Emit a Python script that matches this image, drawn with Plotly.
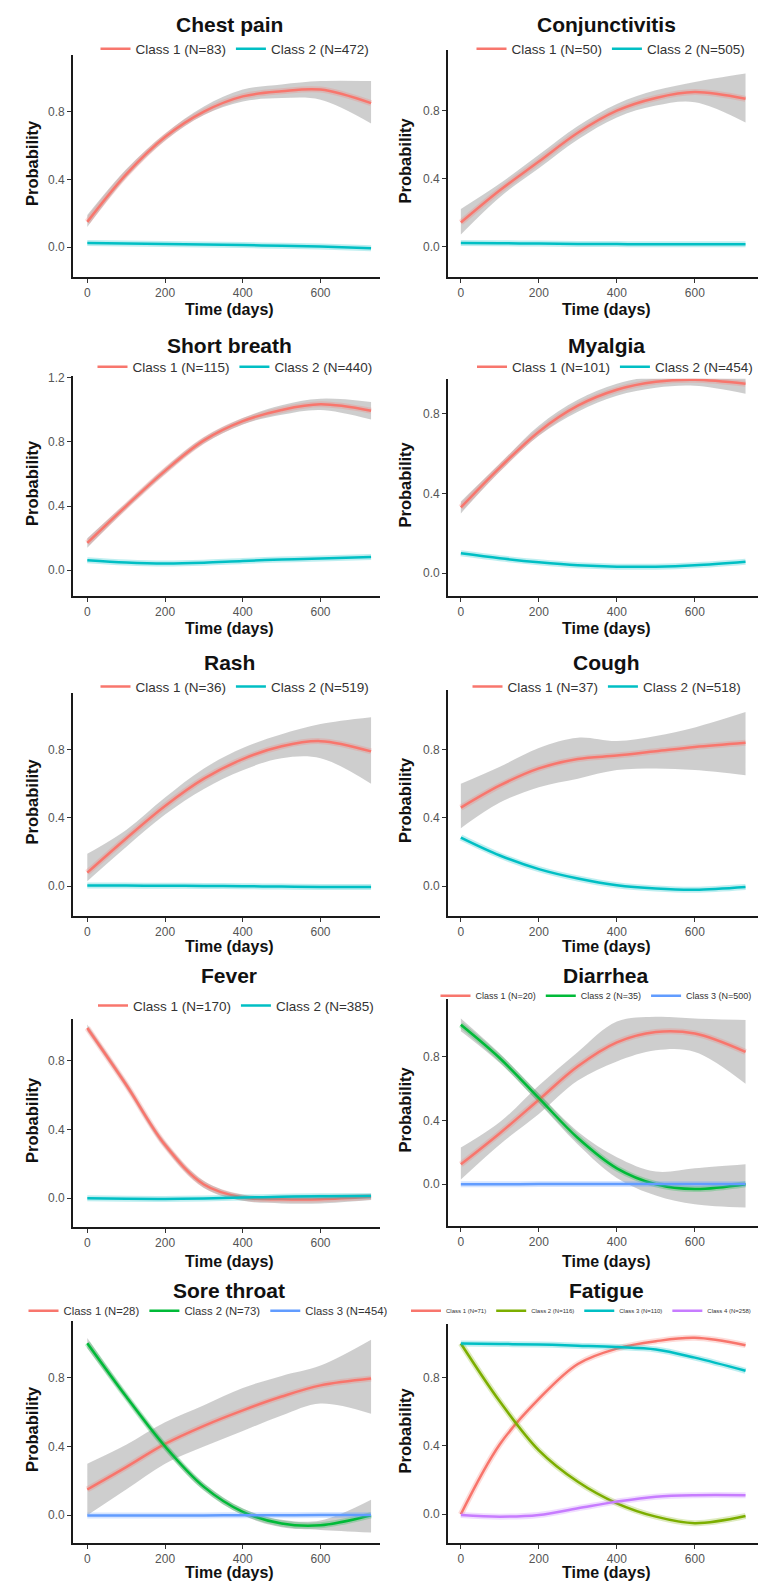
import plotly.graph_objects as go

# ---------------- data ----------------
T = [0, 100, 200, 300, 400, 500, 600, 730]

# Chest pain
chest_names = ["Class 1 (N=83)", "Class 2 (N=472)"]
cp1 = [0.15, 0.43, 0.65, 0.80, 0.89, 0.92, 0.93, 0.85]
cp1_lo = [0.12, 0.41, 0.63, 0.78, 0.86, 0.88, 0.87, 0.73]
cp1_hi = [0.19, 0.46, 0.67, 0.83, 0.93, 0.96, 0.98, 0.98]
cp2 = [0.025, 0.022, 0.019, 0.016, 0.013, 0.009, 0.004, -0.005]

# Conjunctivitis
conj_names = ["Class 1 (N=50)", "Class 2 (N=505)"]
cj1 = [0.14, 0.33, 0.50, 0.67, 0.80, 0.875, 0.91, 0.87]
cj1_lo = [0.07, 0.29, 0.46, 0.63, 0.76, 0.83, 0.85, 0.73]
cj1_hi = [0.22, 0.37, 0.54, 0.71, 0.84, 0.92, 0.97, 1.02]
cj2 = [0.02, 0.018, 0.016, 0.014, 0.013, 0.012, 0.012, 0.012]

# Short breath
sb_names = ["Class 1 (N=115)", "Class 2 (N=440)"]
sb1 = [0.17, 0.40, 0.62, 0.81, 0.93, 1.00, 1.035, 0.995]
sb1_lo = [0.14, 0.38, 0.60, 0.79, 0.91, 0.97, 1.00, 0.94]
sb1_hi = [0.20, 0.42, 0.64, 0.83, 0.95, 1.03, 1.07, 1.05]
sb2 = [0.062, 0.048, 0.042, 0.047, 0.058, 0.066, 0.073, 0.083]

# Myalgia
my_names = ["Class 1 (N=101)", "Class 2 (N=454)"]
my1 = [0.33, 0.53, 0.71, 0.84, 0.92, 0.96, 0.97, 0.95]
my1_lo = [0.30, 0.51, 0.69, 0.81, 0.89, 0.93, 0.94, 0.90]
my1_hi = [0.36, 0.55, 0.74, 0.87, 0.95, 0.99, 1.00, 0.99]
my2 = [0.10, 0.075, 0.055, 0.04, 0.033, 0.033, 0.04, 0.058]

# Rash
rash_names = ["Class 1 (N=36)", "Class 2 (N=519)"]
ra1 = [0.08, 0.28, 0.47, 0.63, 0.745, 0.82, 0.85, 0.79]
ra1_lo = [0.03, 0.23, 0.42, 0.57, 0.68, 0.75, 0.75, 0.60]
ra1_hi = [0.19, 0.33, 0.52, 0.69, 0.81, 0.89, 0.95, 0.99]
ra2 = [0.005, 0.004, 0.003, 0.002, 0.0, -0.002, -0.004, -0.005]

# Cough
cough_names = ["Class 1 (N=37)", "Class 2 (N=518)"]
co1 = [0.46, 0.59, 0.69, 0.745, 0.765, 0.79, 0.815, 0.84]
co1_lo = [0.34, 0.49, 0.58, 0.63, 0.68, 0.69, 0.68, 0.65]
co1_hi = [0.60, 0.70, 0.81, 0.87, 0.85, 0.88, 0.93, 1.02]
co2 = [0.285, 0.18, 0.10, 0.045, 0.006, -0.013, -0.02, -0.004]

# Fever
fever_names = ["Class 1 (N=170)", "Class 2 (N=385)"]
fe1 = [0.99, 0.66, 0.31, 0.08, 0.004, -0.006, -0.006, 0.008]
fe1_lo = [0.97, 0.64, 0.29, 0.06, -0.015, -0.03, -0.03, -0.01]
fe1_hi = [1.01, 0.68, 0.33, 0.10, 0.02, 0.015, 0.02, 0.025]
fe2 = [0.0, -0.003, -0.004, -0.001, 0.004, 0.008, 0.012, 0.013]

# Diarrhea
diar_names = ["Class 1 (N=20)", "Class 2 (N=35)", "Class 3 (N=500)"]
di1 = [0.125, 0.32, 0.53, 0.74, 0.89, 0.955, 0.945, 0.83]
di1_lo = [0.03, 0.25, 0.44, 0.65, 0.77, 0.84, 0.83, 0.63]
di1_hi = [0.23, 0.39, 0.62, 0.83, 1.02, 1.05, 1.04, 1.03]
di2 = [1.0, 0.79, 0.54, 0.29, 0.10, 0.0, -0.03, 0.0]
di2_lo = [0.96, 0.76, 0.51, 0.25, 0.04, -0.07, -0.125, -0.146]
di2_hi = [1.04, 0.82, 0.57, 0.33, 0.17, 0.08, 0.10, 0.125]
di3 = [0.0, 0.0, 0.001, 0.001, 0.002, 0.002, 0.002, 0.002]

# Sore throat
sore_names = ["Class 1 (N=28)", "Class 2 (N=73)", "Class 3 (N=454)"]
st1 = [0.15, 0.28, 0.415, 0.52, 0.61, 0.69, 0.755, 0.795]
st1_lo = [0.0, 0.15, 0.30, 0.40, 0.49, 0.58, 0.65, 0.59]
st1_hi = [0.30, 0.41, 0.54, 0.64, 0.74, 0.81, 0.87, 1.02]
st2 = [1.0, 0.69, 0.40, 0.165, 0.02, -0.048, -0.058, 0.0]
st2_lo = [0.97, 0.67, 0.38, 0.145, 0.0, -0.07, -0.085, -0.10]
st2_hi = [1.03, 0.71, 0.42, 0.185, 0.04, -0.026, -0.03, 0.09]
st3 = [-0.002, -0.002, -0.002, -0.001, 0.0, 0.0, 0.001, 0.002]

# Fatigue
fat_names = ["Class 1 (N=71)", "Class 2 (N=116)", "Class 3 (N=110)", "Class 4 (N=258)"]
fa1 = [0.0, 0.41, 0.675, 0.88, 0.97, 1.013, 1.033, 0.99]
fa2 = [1.0, 0.66, 0.374, 0.19, 0.064, -0.014, -0.052, -0.01]
fa3 = [1.0, 0.997, 0.994, 0.987, 0.979, 0.965, 0.917, 0.84]
fa4 = [-0.004, -0.014, -0.004, 0.035, 0.074, 0.103, 0.112, 0.112]

titles = ["Chest pain", "Conjunctivitis", "Short breath", "Myalgia", "Rash",
          "Cough", "Fever", "Diarrhea", "Sore throat", "Fatigue"]

# ---------------- styling ----------------
RED = "#F8766D"; TEAL = "#00BFC4"; GREEN = "#00BA38"; BLUE = "#619CFF"
OLIVE = "#7CAE00"; PURPLE = "#C77CFF"
RIBBON = "rgba(153,153,153,0.48)"
FONT = "Liberation Sans, Arial, sans-serif"

panels = [
    (chest_names, [(cp1, cp1_lo, cp1_hi, RED), (cp2, None, None, TEAL)]),
    (conj_names, [(cj1, cj1_lo, cj1_hi, RED), (cj2, None, None, TEAL)]),
    (sb_names, [(sb1, sb1_lo, sb1_hi, RED), (sb2, None, None, TEAL)]),
    (my_names, [(my1, my1_lo, my1_hi, RED), (my2, None, None, TEAL)]),
    (rash_names, [(ra1, ra1_lo, ra1_hi, RED), (ra2, None, None, TEAL)]),
    (cough_names, [(co1, co1_lo, co1_hi, RED), (co2, None, None, TEAL)]),
    (fever_names, [(fe1, fe1_lo, fe1_hi, RED), (fe2, None, None, TEAL)]),
    (diar_names, [(di1, di1_lo, di1_hi, RED), (di2, di2_lo, di2_hi, GREEN), (di3, None, None, BLUE)]),
    (sore_names, [(st1, st1_lo, st1_hi, RED), (st2, st2_lo, st2_hi, GREEN), (st3, None, None, BLUE)]),
    (fat_names, [(fa1, None, None, RED), (fa2, None, None, OLIVE), (fa3, None, None, TEAL), (fa4, None, None, PURPLE)]),
]

W, H = 763, 1587
# geometry in pixels: column, y_top, y_bottom, y-range, title_y, legend_x, legend_y, legend_font, xtitle_y
geom = [
    ("L", 50, 273, [-0.176, 1.135], 20, 235, 44, 13.5, 305),
    ("R", 45, 273, [-0.182, 1.159], 20, 611, 44, 13.5, 305),
    ("L", 372, 593, [-0.162, 1.213], 342, 235, 363, 13.5, 625),
    ("R", 375, 593, [-0.115, 0.975], 342, 615, 363, 13.5, 625),
    ("L", 690, 914, [-0.175, 1.133], 660, 235, 684, 13.5, 944),
    ("R", 687, 914, [-0.175, 1.15], 660, 607, 684, 13.5, 944),
    ("L", 1017, 1226, [-0.168, 1.043], 974, 236, 1004, 13.5, 1260),
    ("R", 997, 1225, [-0.2625, 1.1625], 974, 596, 994, 9, 1260),
    ("L", 1320, 1543, [-0.162, 1.13], 1290, 208, 1310, 11.3, 1572),
    ("R", 1323, 1543, [-0.169, 1.115], 1290, 581, 1310, 6, 1572),
]
cols = {"L": (73, 380, [-36.8, 753]), "R": (448, 758, [-33, 762])}

fig = go.Figure()
layout = dict(width=W, height=H, margin=dict(l=0, r=0, t=0, b=0),
              paper_bgcolor="white", plot_bgcolor="white",
              font=dict(family=FONT, color="#333"), annotations=[])

for i, ((names, series), g) in enumerate(zip(panels, geom), start=1):
    col, yt, yb, yr, ty, lx, ly, lf, xty = g
    x0, x1, xr = cols[col]
    xa = "x" if i == 1 else f"x{i}"
    ya = "y" if i == 1 else f"y{i}"
    leg = "legend" if i == 1 else f"legend{i}"
    # ribbons
    for (y, lo, hi, c) in series:
        if lo is not None:
            fig.add_trace(go.Scatter(x=T, y=lo, xaxis=xa, yaxis=ya, mode="lines",
                                     line=dict(width=0, shape="spline"), showlegend=False,
                                     hoverinfo="skip"))
            fig.add_trace(go.Scatter(x=T, y=hi, xaxis=xa, yaxis=ya, mode="lines",
                                     line=dict(width=0, shape="spline"), fill="tonexty",
                                     fillcolor=RIBBON, showlegend=False, hoverinfo="skip"))
    # lines
    for (y, lo, hi, c), nm in zip(series, names):
        fig.add_trace(go.Scatter(x=T, y=y, xaxis=xa, yaxis=ya, mode="lines",
                                 line=dict(width=6, color=c, shape="spline"), opacity=0.25,
                                 showlegend=False, hoverinfo="skip"))
        fig.add_trace(go.Scatter(x=T, y=y, xaxis=xa, yaxis=ya, mode="lines", name=nm,
                                 line=dict(width=2.5, color=c, shape="spline"),
                                 legend=leg))
    axkey = "xaxis" if i == 1 else f"xaxis{i}"
    aykey = "yaxis" if i == 1 else f"yaxis{i}"
    layout[axkey] = dict(domain=[x0 / W, x1 / W], range=xr, anchor=ya,
                         tickvals=[0, 200, 400, 600], ticks="outside", ticklen=4,
                         tickcolor="#333", showline=True, linecolor="#1a1a1a", linewidth=1.6,
                         showgrid=False, zeroline=False,
                         tickfont=dict(size=12, color="#555"))
    layout[aykey] = dict(domain=[1 - yb / H, 1 - yt / H], range=yr, anchor=xa,
                         tick0=0, dtick=0.4, tickformat=".1f", ticks="outside", ticklen=4,
                         tickcolor="#333", showline=True, linecolor="#1a1a1a", linewidth=1.6,
                         showgrid=False, zeroline=False,
                         tickfont=dict(size=12, color="#555"))
    layout[leg] = dict(orientation="h", x=lx / W, y=1 - ly / H, xanchor="center",
                       yanchor="middle", bgcolor="rgba(0,0,0,0)", traceorder="normal",
                       font=dict(size=lf, color="#333", family=FONT),
                       itemwidth=30, tracegroupgap=0)
    cx = (x0 + x1) / 2 + 3
    layout["annotations"].append(dict(text=f"<b>{titles[i-1]}</b>", x=cx / W, y=1 - ty / H,
                                      xref="paper", yref="paper", showarrow=False,
                                      xanchor="center", yanchor="middle",
                                      font=dict(size=21, color="#111", family=FONT)))
    layout["annotations"].append(dict(text="<b>Time (days)</b>", x=cx / W, y=1 - xty / H,
                                      xref="paper", yref="paper", showarrow=False,
                                      xanchor="center", yanchor="middle",
                                      font=dict(size=16, color="#111", family=FONT)))
    pyx = 32 if col == "L" else 405
    layout["annotations"].append(dict(text="<b>Probability</b>", x=pyx / W,
                                      y=1 - ((yt + yb) / 2 - 3) / H,
                                      xref="paper", yref="paper", showarrow=False,
                                      textangle=-90, xanchor="center", yanchor="middle",
                                      font=dict(size=16.5, color="#111", family=FONT)))

fig.update_layout(**layout)
fig.write_html("out.html", config={"displayModeBar": False},
               post_script="document.body.style.margin='0';document.body.style.overflow='hidden';")
